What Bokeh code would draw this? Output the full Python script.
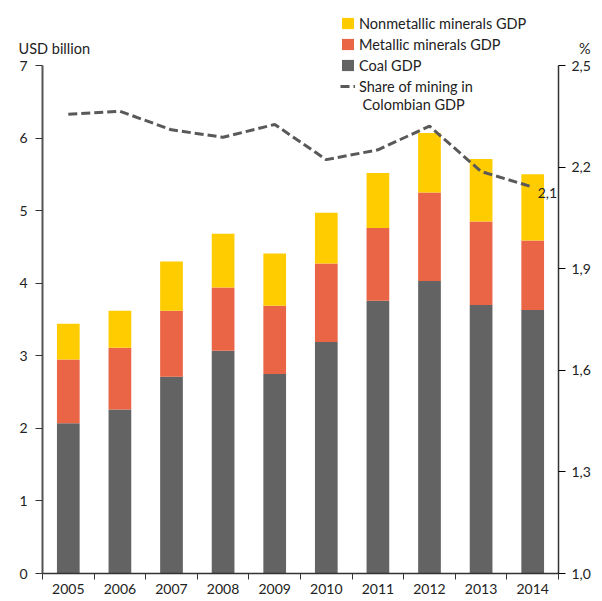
import numpy as np
from bokeh.plotting import figure
from bokeh.models import (Range1d, LinearAxis, FixedTicker, CustomJSTickFormatter,
                          Legend, LegendItem, Label, ColumnDataSource)
from bokeh.core.properties import value
from bokeh.embed import file_html
from bokeh.resources import INLINE

years = ["2005", "2006", "2007", "2008", "2009", "2010", "2011", "2012", "2013", "2014"]
coal = [2.07, 2.26, 2.71, 3.07, 2.75, 3.19, 3.76, 4.03, 3.70, 3.63]
metallic = [0.88, 0.85, 0.91, 0.87, 0.94, 1.08, 1.00, 1.22, 1.15, 0.96]
nonmetallic = [0.49, 0.51, 0.68, 0.74, 0.72, 0.70, 0.76, 0.82, 0.86, 0.91]
share = [2.356, 2.365, 2.31, 2.288, 2.326, 2.222, 2.251, 2.321, 2.187, 2.141]
left_ticks = [0, 1, 2, 3, 4, 5, 6, 7]
right_ticks = [1.0, 1.3, 1.6, 1.9, 2.2, 2.5]

FONT = "Lato"
TXT = "#222222"
C_COAL = "#636363"
C_MET = "#EA6446"
C_NON = "#FFCC00"
C_LINE = "#595959"
LBL_SIZE = "14.5px"

# canvas layout (pixels): where the axes sit inside the 602x601 canvas
W, H = 602, 601
AX_L, AX_R, AX_T, AX_B = 42, 558, 65, 573
n = len(years)
L0, L1 = left_ticks[0], left_ticks[-1]
R0, R1 = right_ticks[0], right_ticks[-1]
ppx = (AX_R - AX_L) / n
ppy = (AX_B - AX_T) / (L1 - L0)
ppr = (AX_B - AX_T) / (R1 - R0)

xpos = [i + 0.5 for i in range(n)]
src = ColumnDataSource(dict(x=xpos, year=years, coal=coal, metallic=metallic,
                            nonmetallic=nonmetallic, share=share))

p = figure(width=W, height=H,
           x_range=Range1d(-AX_L / ppx, n + (W - AX_R) / ppx),
           y_range=Range1d(L0 - (H - AX_B) / ppy, L1 + AX_T / ppy),
           output_backend="svg", toolbar_location=None,
           min_border_left=0, min_border_right=0, min_border_top=0, min_border_bottom=0)
p.xgrid.visible = False
p.ygrid.visible = False
p.outline_line_color = None
p.background_fill_color = "white"
p.border_fill_color = "white"

p.extra_y_ranges = {"pct": Range1d(R0 - (H - AX_B) / ppr, R1 + AX_T / ppr)}

rs = p.vbar_stack(["coal", "metallic", "nonmetallic"], x="x", width=0.44, source=src,
                  color=[C_COAL, C_MET, C_NON], line_color=None)

r_line = p.line("x", "share", source=src, y_range_name="pct", line_dash="9 4",
                line_width=3, line_color=C_LINE)

last_src = ColumnDataSource(dict(x=[xpos[-1]], y=[share[-1]],
                                 t=[f"{share[-1]:.1f}".replace(".", ",")]))
p.text("x", "y", text="t", source=last_src, y_range_name="pct", x_offset=5, y_offset=6,
       text_baseline="middle", text_align="left", text_font=value(FONT),
       text_font_size="14px", text_color=TXT)

# x axis
xa = p.xaxis[0]
xa.fixed_location = L0
xa.bounds = (0, n)
xa.ticker = FixedTicker(ticks=xpos, minor_ticks=list(range(n + 1)))
xa.formatter = CustomJSTickFormatter(args=dict(years=years),
                                     code="return years[Math.floor(tick)];")
xa.major_tick_line_color = None
xa.minor_tick_line_color = "#333333"
xa.minor_tick_out = 6
xa.minor_tick_in = 0
xa.axis_line_color = "#333333"
xa.axis_line_width = 1.5
xa.major_label_standoff = 4

# left axis
ya = p.yaxis[0]
ya.fixed_location = 0
ya.bounds = (L0, L1)
ya.ticker = FixedTicker(ticks=left_ticks)
ya.minor_tick_line_color = None
ya.major_tick_out = 7
ya.major_tick_in = 0
ya.axis_line_color = "#555555"
ya.axis_line_width = 2
ya.major_tick_line_color = "#333333"
ya.major_label_standoff = 8

# right axis
ra = LinearAxis(y_range_name="pct", ticker=FixedTicker(ticks=right_ticks),
                formatter=CustomJSTickFormatter(code="return tick.toFixed(1).replace('.', ',');"))
ra.fixed_location = n
ra.bounds = (R0, R1)
ra.minor_tick_line_color = None
ra.major_tick_out = 7
ra.major_tick_in = 0
ra.axis_line_color = "#333333"
ra.axis_line_width = 1.5
ra.major_label_standoff = 6
p.add_layout(ra, "right")

for ax in [xa, ya, ra]:
    ax.major_label_text_font = FONT
    ax.major_label_text_font_size = "14px"
    ax.major_label_text_color = TXT

p.add_layout(Label(x=(18 - AX_L) / ppx, y=L1 + (AX_T - 48) / ppy, text="USD billion",
                   text_font=FONT, text_font_size=LBL_SIZE, text_color=TXT, text_align="left",
                   text_baseline="alphabetic"))
p.add_layout(Label(x=n + (590 - AX_R) / ppx, y=R1 + (AX_T - 48) / ppr, y_range_name="pct",
                   text="%", text_font=FONT, text_font_size=LBL_SIZE, text_color=TXT,
                   text_align="right", text_baseline="alphabetic"))

legend = Legend(items=[
    LegendItem(label="Nonmetallic minerals GDP", renderers=[rs[2]]),
    LegendItem(label="Metallic minerals GDP", renderers=[rs[1]]),
    LegendItem(label="Coal GDP", renderers=[rs[0]]),
    LegendItem(label="Share of mining in", renderers=[r_line]),
], location=(340, 506))
legend.padding = 0
legend.margin = 0
legend.spacing = 3
legend.glyph_width = 15
legend.glyph_height = 14
legend.label_height = 18
legend.label_standoff = 4
legend.border_line_color = None
legend.background_fill_alpha = 0
legend.label_text_font = FONT
legend.label_text_font_size = LBL_SIZE
legend.label_text_color = TXT
p.add_layout(legend, "center")

p.add_layout(Label(x=(362 - AX_L) / ppx, y=L1 + (AX_T - 103.5) / ppy, text="Colombian GDP",
                   text_font=FONT, text_font_size=LBL_SIZE, text_color=TXT, text_align="left",
                   text_baseline="alphabetic"))

open("out.html", "w").write(file_html(p, INLINE))
